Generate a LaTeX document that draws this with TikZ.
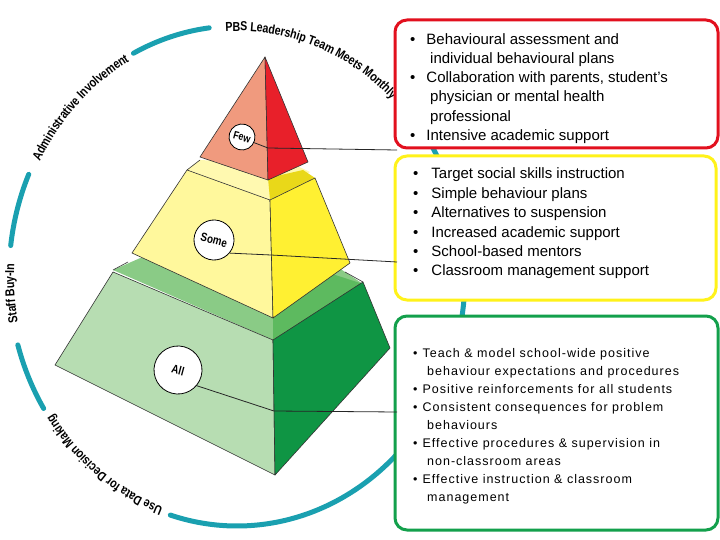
\documentclass[tikz,border=0pt]{standalone}
\usepackage{fontspec}
\setmainfont{Liberation Sans}
\newfontfamily\labfont{Liberation Sans}
\newfontfamily\ringfont[FakeStretch=0.82]{Liberation Sans}
\newfontfamily\spaced[LetterSpace=8]{Liberation Sans}
\usetikzlibrary{decorations.text}
\definecolor{teal1}{HTML}{1AA0B0}
\definecolor{gfront}{HTML}{B7DDB2}
\definecolor{gtop}{HTML}{8ACB86}
\definecolor{gtopr}{HTML}{5DBA5F}
\definecolor{gright}{HTML}{0F9544}
\definecolor{yfront}{HTML}{FFF89C}
\definecolor{ytop}{HTML}{FFF9B0}
\definecolor{ytopr}{HTML}{E9D819}
\definecolor{yright}{HTML}{FFF032}
\definecolor{rfront}{HTML}{F09A7E}
\definecolor{rright}{HTML}{E8202A}
\definecolor{bred}{HTML}{E2101E}
\definecolor{byel}{HTML}{FFF21A}
\definecolor{bgreen}{HTML}{13A04C}
\tikzset{
 ring/.style={teal1,line width=5pt,line cap=round},
 face/.style={draw=black!80,line width=0.6pt,line join=round},
 tier/.style={circle,draw=black,line width=0.8pt,fill=white,font=\ringfont\bfseries,inner sep=0pt},
 conn/.style={draw=black!85,line width=0.8pt},
 box/.style={rounded corners=12pt,line width=3pt,fill=white},
 ln/.style={anchor=base west,inner sep=0pt,font=\fontsize{15}{15}\selectfont},
 gl/.style={anchor=base west,inner sep=0pt,font=\spaced\fontsize{12.5}{12.5}\selectfont},
 ringtext/.style={font=\ringfont\bfseries\fontsize{13}{13}\selectfont,decorate,decoration={text along path,text align=center,raise=-5pt}}
}
\begin{document}
\begin{tikzpicture}[x=1pt,y=1pt]
\useasboundingbox[fill=white] (0,0) rectangle (720,-540);
% ring arcs
\def\ringarc#1#2{\draw[ring] (237,-276) ++(#1:228 and 250) arc[start angle=#1,end angle=#2,x radius=228,y radius=250];}
\ringarc{117}{97}
\ringarc{173}{156}
\ringarc{212}{196}
\ringarc{41}{-107}
% ring texts
\def\ringtxt#1#2#3{\path[ringtext,decoration={text={|\ringfont\bfseries\fontsize{13}{13}\selectfont|#3}}] (237,-276) ++(#1:228 and 250) arc[start angle=#1,end angle=#2,x radius=228,y radius=250];}
\ringtxt{95}{44}{PBS Leadership Team Meets Monthly}
\ringtxt{154}{117}{Administrative Involvement}
\ringtxt{195}{173}{Staff Buy-In}
\ringtxt{253}{212}{Use Data for Decision Making}
% green tier
\fill[gtop] (113,-270) -- (170,-245) -- (330,-262) -- (363,-284) -- (273,-340) -- cycle;
\fill[gtopr] (273,-340) -- (363,-284) -- (320,-270) -- (273,-300) -- cycle;
\draw[face,fill=gfront] (113,-272) -- (55,-365) -- (275,-475) -- (273,-340) -- cycle;
\draw[face,fill=gright] (273,-340) -- (363,-282) -- (390,-348) -- (275,-475) -- cycle;
\draw[face] (113,-270) -- (128,-262);
\draw[face] (363,-282) -- (345,-272);
% yellow tier
\fill[ytop] (200,-160) -- (187,-170) -- (270,-200) -- (310,-172) -- (295,-165) -- cycle;
\fill[ytopr] (270,-200) -- (315,-178) -- (303,-170) -- (268,-178) -- cycle;
\draw[face,fill=yfront] (187,-170) -- (132,-253) -- (273,-318) -- (270,-200) -- cycle;
\draw[face,fill=yright] (270,-200) -- (315,-178) -- (350,-263) -- (273,-318) -- cycle;
\draw[face] (187,-170) -- (200,-160);
% red tier
\draw[face,fill=rfront] (265,-57) -- (200,-157) -- (268,-180) -- cycle;
\draw[face,fill=rright] (265,-57) -- (308,-162) -- (268,-180) -- cycle;
% boxes
\draw[box,draw=bred] (395,-20) rectangle (718,-148);
\draw[box,draw=byel] (395,-156) rectangle (716,-300);
\draw[box,draw=bgreen] (395,-316) rectangle (718,-530);
% tier labels
\node[tier,minimum size=26pt,rotate=-15] (few) at (242,-137) {\fontsize{11}{11}\selectfont Few};
\node[tier,minimum size=40pt,rotate=-15] (some) at (214,-240) {\fontsize{12}{12}\selectfont Some};
\node[tier,minimum size=48pt,rotate=-15] (all) at (178,-370) {\fontsize{12}{12}\selectfont All};
\coordinate (f1) at (268,-148);
\coordinate (fe) at (397,-150);
\coordinate (s1) at (271,-255);
\coordinate (se) at (397,-262);
\coordinate (a1) at (274,-411);
\coordinate (ae) at (397,-412);
\draw[conn] (few.-10) -- (f1) -- (fe);
\draw[conn] (some.-25) -- (s1) -- (se);
\draw[conn] (all.-25) -- (a1) -- (ae);
% red box text
\node[ln] (r1) at (410,-45) {•\hspace{11pt}Behavioural assessment and};
\node[ln] (r2) at (430,-64) {individual behavioural plans};
\node[ln] (r3) at (410,-83) {•\hspace{11pt}Collaboration with parents, student’s};
\node[ln] (r4) at (430,-102) {physician or mental health};
\node[ln] (r5) at (430,-122) {professional};
\node[ln] (r6) at (410,-141) {•\hspace{11pt}Intensive academic support};
% yellow box text
\node[ln] (y1) at (413,-179) {•\hspace{13pt}Target social skills instruction};
\node[ln] (y2) at (413,-199) {•\hspace{13pt}Simple behaviour plans};
\node[ln] (y3) at (413,-218) {•\hspace{13pt}Alternatives to suspension};
\node[ln] (y4) at (413,-237) {•\hspace{13pt}Increased academic support};
\node[ln] (y5) at (413,-256) {•\hspace{13pt}School-based mentors};
\node[ln] (y6) at (413,-275) {•\hspace{13pt}Classroom management support};
% green box text
\node[gl] (g1) at (413,-357) {•\hspace{5pt}Teach \& model school-wide positive};
\node[gl] (g2) at (427,-375) {behaviour expectations and procedures};
\node[gl] (g3) at (413,-393) {•\hspace{5pt}Positive reinforcements for all students};
\node[gl] (g4) at (413,-411) {•\hspace{5pt}Consistent consequences for problem};
\node[gl] (g5) at (427,-429) {behaviours};
\node[gl] (g6) at (413,-447) {•\hspace{5pt}Effective procedures \& supervision in};
\node[gl] (g7) at (427,-465) {non-classroom areas};
\node[gl] (g8) at (413,-483) {•\hspace{5pt}Effective instruction \& classroom};
\node[gl] (g9) at (427,-501) {management};
\end{tikzpicture}
\end{document}
